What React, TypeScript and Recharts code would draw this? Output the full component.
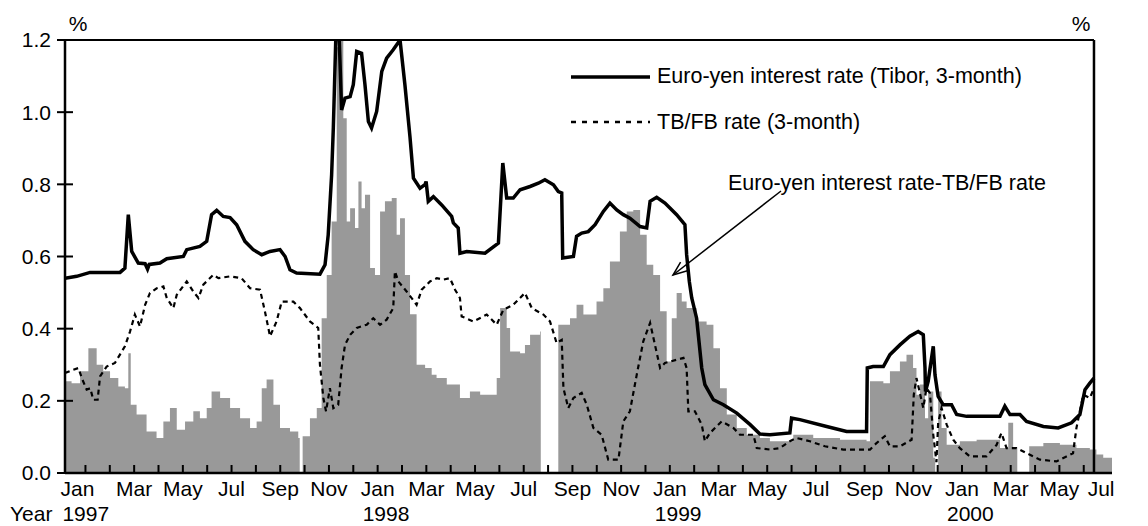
import { ComposedChart, Line, Area, XAxis, YAxis, ReferenceLine } from 'recharts';

// x positions are in months: 1 = Jan 1997 tick, 13 = Jan 1998 tick, ...
const monthNames = ['Jan', 'Feb', 'Mar', 'Apr', 'May', 'Jun', 'Jul', 'Aug', 'Sep', 'Oct', 'Nov', 'Dec'];
const yearLabels = ['1997', '1998', '1999', '2000'];
const monthTicks = Array.from({ length: 43 }, (_, i) => i + 1);
const yTicks = [0, 0.2, 0.4, 0.6, 0.8, 1.0, 1.2];

const xStart = 0.16;
const xEnd = 43.16;
const rightAxisAt = 42.42;

// Euro-yen interest rate (Tibor, 3-month)
const euroYenX = [
  0.16, 0.64, 1.19, 2.42, 2.62, 2.76, 2.9, 3.17, 3.45, 3.55,
  3.62, 4.06, 4.34, 5.02, 5.16, 5.7, 5.98, 6.18, 6.39, 6.66,
  6.94, 7.21, 7.55, 7.89, 8.24, 8.58, 8.99, 9.2, 9.4, 9.67,
  10.63, 10.84, 10.97, 11.11, 11.18, 11.3, 11.4, 11.52, 11.66, 11.87,
  12.0, 12.14, 12.34, 12.48, 12.62, 12.75, 12.96, 13.17, 13.37, 13.64,
  13.92, 14.12, 14.33, 14.47, 14.74, 14.95, 14.99, 15.08, 15.29, 15.63,
  16.04, 16.11, 16.31, 16.38, 16.66, 17.41, 17.96, 18.14, 18.3, 18.57,
  18.85, 19.26, 19.6, 19.87, 20.22, 20.42, 20.56, 20.6, 21.04, 21.17,
  21.38, 21.65, 21.93, 22.27, 22.54, 22.82, 23.09, 23.36, 23.78, 24.05,
  24.19, 24.46, 24.8, 25.28, 25.62, 25.69, 25.8, 25.9, 26.1, 26.31,
  26.44, 26.79, 27.2, 27.75, 28.3, 28.7, 29.11, 29.93, 30.0, 30.34,
  31.44, 32.26, 33.08, 33.11, 33.35, 33.77, 34.04, 34.45, 34.86, 35.2,
  35.41, 35.48, 35.5, 35.61, 35.82, 35.89, 36.02, 36.23, 36.57, 36.78,
  37.19, 38.56, 38.76, 38.97, 39.38, 39.65, 40.34, 40.95, 41.5, 41.84,
  42.05, 42.25, 42.42,
];
const euroYen = [
  0.54, 0.545, 0.556, 0.556, 0.568, 0.716, 0.614, 0.582, 0.58, 0.565,
  0.578, 0.582, 0.594, 0.6, 0.619, 0.628, 0.642, 0.716, 0.728, 0.711,
  0.708, 0.688, 0.642, 0.619, 0.605, 0.614, 0.619, 0.6, 0.563, 0.554,
  0.551, 0.577, 0.66, 0.826, 0.956, 1.25, 1.25, 1.006, 1.039, 1.043,
  1.076, 1.168, 1.163, 1.076, 0.974, 0.956, 1.002, 1.113, 1.15, 1.173,
  1.2, 1.076, 0.93, 0.817, 0.789, 0.8, 0.808, 0.753, 0.766, 0.743,
  0.711, 0.693, 0.679, 0.609, 0.614, 0.609, 0.637, 0.859, 0.762, 0.762,
  0.785, 0.794, 0.803, 0.813, 0.799, 0.78, 0.776, 0.596, 0.6, 0.656,
  0.665, 0.669, 0.688, 0.725, 0.748, 0.729, 0.716, 0.706, 0.683, 0.679,
  0.753, 0.764, 0.748, 0.716, 0.688, 0.605, 0.531, 0.485, 0.429, 0.291,
  0.245, 0.203, 0.189, 0.166, 0.134, 0.108, 0.106, 0.111, 0.152, 0.148,
  0.129, 0.115, 0.115, 0.291, 0.295, 0.295, 0.328, 0.355, 0.379, 0.392,
  0.383, 0.291, 0.226, 0.254, 0.351, 0.272, 0.212, 0.189, 0.189, 0.162,
  0.157, 0.157, 0.185, 0.162, 0.162, 0.143, 0.129, 0.125, 0.139, 0.162,
  0.231, 0.249, 0.263,
];

// TB/FB rate (3-month)
const tbfbX = [
  0.16, 0.45, 0.71, 0.85, 1.05, 1.2, 1.32, 1.5, 1.6, 1.87,
  2.21, 2.62, 2.83, 3.03, 3.24, 3.45, 3.65, 3.93, 4.2, 4.34,
  4.61, 4.75, 5.16, 5.43, 5.64, 5.84, 6.25, 6.46, 6.94, 7.41,
  7.76, 8.17, 8.37, 8.58, 8.85, 9.06, 9.54, 9.81, 10.22, 10.56,
  10.63, 10.77, 10.88, 11.04, 11.18, 11.38, 11.52, 11.66, 11.87, 12.14,
  12.55, 12.82, 13.1, 13.37, 13.64, 13.71, 13.85, 14.19, 14.45, 14.6,
  14.81, 15.15, 15.43, 15.7, 15.97, 16.18, 16.38, 16.45, 16.93, 17.48,
  17.89, 18.16, 18.57, 19.05, 19.33, 19.81, 20.08, 20.35, 20.56, 20.63,
  20.83, 21.04, 21.38, 21.59, 21.86, 22.2, 22.47, 22.89, 23.09, 23.36,
  23.64, 23.91, 24.19, 24.39, 24.6, 24.8, 25.56, 25.69, 25.76, 26.03,
  26.31, 26.44, 26.65, 27.13, 27.61, 27.88, 28.43, 28.57, 29.11, 29.52,
  29.93, 30.21, 30.75, 31.37, 32.12, 33.22, 33.49, 33.83, 34.04, 34.45,
  34.93, 35.02, 35.13, 35.41, 35.54, 35.68, 35.82, 35.95, 36.02, 36.16,
  36.37, 36.64, 36.91, 37.32, 38.01, 38.42, 38.62, 38.83, 39.24, 39.65,
  40.2, 40.88, 41.29, 41.56, 41.7, 41.98, 42.25, 42.42,
];
const tbfb = [
  0.277, 0.285, 0.291, 0.263, 0.231, 0.235, 0.203, 0.203, 0.268, 0.295,
  0.305, 0.351, 0.392, 0.439, 0.406, 0.466, 0.499, 0.512, 0.517, 0.485,
  0.457, 0.494, 0.531, 0.503, 0.485, 0.522, 0.549, 0.54, 0.545, 0.54,
  0.512, 0.508, 0.448, 0.379, 0.42, 0.475, 0.475, 0.457, 0.42, 0.402,
  0.3, 0.208, 0.171, 0.235, 0.18, 0.189, 0.291, 0.355, 0.383, 0.402,
  0.411, 0.429, 0.411, 0.425, 0.457, 0.559, 0.531, 0.503, 0.48, 0.466,
  0.508, 0.531, 0.54, 0.536, 0.54, 0.508, 0.485, 0.434, 0.42, 0.439,
  0.411, 0.452, 0.466, 0.499, 0.457, 0.439, 0.42, 0.36, 0.369, 0.235,
  0.18, 0.208, 0.222, 0.189, 0.125, 0.106, 0.037, 0.037, 0.143, 0.171,
  0.272, 0.365, 0.416, 0.355, 0.291, 0.305, 0.319, 0.291, 0.171, 0.171,
  0.134, 0.088, 0.111, 0.143, 0.125, 0.106, 0.106, 0.069, 0.065, 0.069,
  0.088, 0.097, 0.088, 0.074, 0.065, 0.065, 0.083, 0.102, 0.074, 0.074,
  0.092, 0.217, 0.263, 0.18, 0.235, 0.222, 0.106, 0.03, 0.139, 0.18,
  0.134, 0.092, 0.069, 0.046, 0.046, 0.078, 0.111, 0.069, 0.069, 0.055,
  0.037, 0.032, 0.046, 0.055, 0.125, 0.217, 0.208, 0.235,
];

// Euro-yen interest rate - TB/FB rate (null = no data)
const spreadX = [
  0.16, 0.43, 0.78, 1.12, 1.46, 1.73, 2.01, 2.35, 2.62, 2.76,
  2.86, 3.1, 3.51, 3.92, 4.2, 4.47, 4.75, 5.09, 5.43, 5.7,
  5.98, 6.18, 6.53, 6.94, 7.35, 7.76, 8.03, 8.24, 8.44, 8.72,
  8.99, 9.4, 9.74, 9.8, 9.8, 9.92, 10.22, 10.5, 10.7, 10.91,
  11.11, 11.32, 11.45, 11.59, 11.73, 11.87, 12.07, 12.21, 12.34, 12.48,
  12.69, 12.89, 13.1, 13.3, 13.58, 13.78, 13.92, 14.12, 14.33, 14.6,
  14.95, 15.22, 15.42, 15.84, 16.38, 16.79, 17.21, 17.62, 17.89, 18.03,
  18.3, 18.44, 18.85, 19.05, 19.26, 19.67, 19.7, 19.7, 20.42, 20.9,
  21.17, 21.45, 21.99, 22.27, 22.54, 22.95, 23.23, 23.5, 23.78, 24.05,
  24.32, 24.6, 24.87, 25.08, 25.28, 25.49, 25.69, 26.1, 26.51, 26.79,
  27.06, 27.34, 27.75, 28.16, 28.7, 29.11, 30.07, 30.89, 31.99, 33.08,
  33.22, 33.77, 34.04, 34.45, 34.72, 34.99, 35.13, 35.27, 35.48, 35.61,
  35.82, 35.9, 35.9, 36.02, 36.16, 36.37, 36.91, 37.6, 38.28, 38.56,
  38.9, 39.1, 39.27, 39.27, 39.76, 40.34, 41.02, 41.7, 42.25, 42.52,
  42.8, 43.16,
];
const spread = [
  0.254, 0.249, 0.282, 0.346, 0.3, 0.282, 0.263, 0.24, 0.235, 0.332,
  0.189, 0.162, 0.115, 0.097, 0.143, 0.18, 0.12, 0.143, 0.171, 0.152,
  0.18, 0.226, 0.208, 0.18, 0.152, 0.125, 0.143, 0.235, 0.259, 0.189,
  0.125, 0.115, 0.097, 0.097, null, 0.102, 0.152, 0.18, 0.429, 0.549,
  0.697, 1.18, 1.2, 0.983, 0.697, 0.734, 0.679, 0.808, 0.734, 0.771,
  0.568, 0.549, 0.725, 0.753, 0.762, 0.66, 0.706, 0.549, 0.44, 0.3,
  0.291, 0.272, 0.263, 0.245, 0.208, 0.226, 0.217, 0.217, 0.263, 0.457,
  0.402, 0.337, 0.332, 0.355, 0.383, 0.392, 0.392, null, 0.411, 0.429,
  0.466, 0.439, 0.475, 0.512, 0.586, 0.669, 0.725, 0.729, 0.66, 0.577,
  0.549, 0.448, 0.309, 0.429, 0.499, 0.475, 0.457, 0.42, 0.411, 0.346,
  0.235, 0.162, 0.125, 0.106, 0.097, 0.088, 0.106, 0.097, 0.092, 0.088,
  0.254, 0.249, 0.282, 0.309, 0.328, 0.291, 0.217, 0.245, 0.152, 0.226,
  0.042, 0.042, null, 0.226, 0.125, 0.078, 0.088, 0.092, 0.092, 0.069,
  0.139, 0.069, 0.069, null, 0.074, 0.083, 0.078, 0.069, 0.065, 0.051,
  0.042, 0.037,
];

const FONT = '"Liberation Sans", Arial, Helvetica, sans-serif';
const FS = 21;
const W = 1148;
const H = 526;

const toPoints = (xs: number[], vs: (number | null)[]) => xs.map((x, i) => ({ x, v: vs[i] }));

function MonthTick(props: any) {
  const { x, y, payload } = props;
  const m = payload.value;
  const idx = m - 1;
  const showMonth = idx % 2 === 0;
  const isJan = idx % 12 === 0;
  // first and last labels are pulled in toward the frame, as in the original
  const dx = m === 1 ? -8 : m === 43 ? -7 : 0;
  return (
    <g>
      {m < rightAxisAt && <line x1={x} x2={x} y1={y} y2={y - 8} stroke="#000" strokeWidth={2} />}
      {showMonth && (
        <text x={x + dx} y={y + 16} dy="0.35em" textAnchor="middle" fontSize={FS} fontFamily={FONT} fill="#000">
          {monthNames[idx % 12]}
        </text>
      )}
      {isJan && (
        <text x={x + dx - 15} y={y + 41} dy="0.35em" textAnchor="start" fontSize={FS} fontFamily={FONT} fill="#000">
          {yearLabels[idx / 12]}
        </text>
      )}
    </g>
  );
}

function LeftTick(props: any) {
  const { x, y, payload } = props;
  return (
    <g>
      <line x1={x - 8} x2={x + 8} y1={y} y2={y} stroke="#000" strokeWidth={2} />
      <text x={x - 14} y={y} dy="0.35em" textAnchor="end" fontSize={FS} fontFamily={FONT} fill="#000">
        {Number(payload.value).toFixed(1)}
      </text>
    </g>
  );
}

// right scale sits left of the plot edge, where the last data runs on past it
function RightTick(props: any) {
  const { x, y, payload } = props;
  const ax = x - 18;
  return (
    <g>
      <line x1={ax - 9} x2={ax + 9} y1={y} y2={y} stroke="#000" strokeWidth={2} />
      <text x={ax + 11} y={y} dy="0.35em" textAnchor="start" fontSize={FS} fontFamily={FONT} fill="#000">
        {Number(payload.value).toFixed(1)}
      </text>
    </g>
  );
}

function Overlay() {
  const tip = { x: 673, y: 275 };
  const tail = { x: 781, y: 191 };
  const ang = Math.atan2(tail.y - tip.y, tail.x - tip.x);
  const head = (d: number) => ({
    x: tip.x + 15 * Math.cos(ang + d),
    y: tip.y + 15 * Math.sin(ang + d),
  });
  const h1 = head(0.38);
  const h2 = head(-0.38);
  const txt = { fontSize: FS, fontFamily: FONT, fill: '#000' };
  const leg = { fontSize: 21.5, fontFamily: FONT, fill: '#000' };
  return (
    <svg width={W} height={H} style={{ position: 'absolute', left: 0, top: 0, pointerEvents: 'none' }}>
      <text x={78} y={24} dy="0.35em" textAnchor="middle" {...txt}>%</text>
      <text x={1081} y={24} dy="0.35em" textAnchor="middle" {...txt}>%</text>
      <text x={10} y={514} dy="0.35em" {...txt}>Year</text>
      <line x1={571} x2={650} y1={77} y2={77} stroke="#000" strokeWidth={3.5} />
      <text x={657} y={75} dy="0.35em" {...leg}>Euro-yen interest rate (Tibor, 3-month)</text>
      <line x1={571} x2={650} y1={122} y2={122} stroke="#000" strokeWidth={2.5} strokeDasharray="5 6" />
      <text x={657} y={121} dy="0.35em" {...leg}>TB/FB rate (3-month)</text>
      <text x={728} y={182} dy="0.35em" {...leg}>Euro-yen interest rate-TB/FB rate</text>
      <line x1={tail.x} y1={tail.y} x2={tip.x} y2={tip.y} stroke="#000" strokeWidth={1.5} />
      <polyline points={`${h1.x},${h1.y} ${tip.x},${tip.y} ${h2.x},${h2.y}`} fill="none" stroke="#000" strokeWidth={1.5} />
    </svg>
  );
}

const layer: React.CSSProperties = { position: 'absolute', left: 0, top: 0 };

export default function App() {
  return (
    <div style={{ position: 'absolute', left: 0, top: 0, width: W, height: H, background: '#fff' }}>
      {/* bottom layer: the grey spread, under the axes */}
      <div style={layer}>
        <ComposedChart width={W} height={H} margin={{ top: 40, right: 36, bottom: 53, left: 65 }}>
          <XAxis dataKey="x" type="number" domain={[xStart, xEnd]} allowDataOverflow hide />
          <YAxis domain={[0, 1.2]} allowDataOverflow hide />
          <Area
            data={toPoints(spreadX, spread)}
            dataKey="v"
            type="stepAfter"
            fill="#999999"
            fillOpacity={1}
            stroke="none"
            isAnimationActive={false}
            dot={false}
            activeDot={false}
          />
        </ComposedChart>
      </div>
      {/* top layer: axes, frame, month ticks and the two rate lines */}
      <div style={layer}>
        <ComposedChart width={W} height={H} margin={{ top: 40, right: 0, bottom: 0, left: 0 }}>
          <XAxis
            dataKey="x"
            type="number"
            domain={[xStart, xEnd]}
            allowDataOverflow
            ticks={monthTicks}
            interval={0}
            tickLine={false}
            tickSize={0}
            tickMargin={0}
            tick={<MonthTick />}
            axisLine={{ stroke: '#000', strokeWidth: 2.5 }}
            height={53}
          />
          <YAxis
            yAxisId="l"
            domain={[0, 1.2]}
            allowDataOverflow
            ticks={yTicks}
            interval={0}
            tickLine={false}
            tickSize={0}
            tickMargin={0}
            tick={<LeftTick />}
            axisLine={{ stroke: '#000', strokeWidth: 2.5 }}
            width={65}
          />
          <YAxis
            yAxisId="r"
            orientation="right"
            domain={[0, 1.2]}
            ticks={yTicks}
            interval={0}
            tickLine={false}
            tickSize={0}
            tickMargin={0}
            tick={<RightTick />}
            axisLine={false}
            width={36}
          />
          <ReferenceLine
            yAxisId="l"
            segment={[{ x: xStart, y: 1.2 }, { x: rightAxisAt, y: 1.2 }]}
            stroke="#000"
            strokeWidth={2}
          />
          <ReferenceLine yAxisId="l" x={rightAxisAt} stroke="#000" strokeWidth={2.5} />
          <Line
            yAxisId="l"
            data={toPoints(tbfbX, tbfb)}
            dataKey="v"
            type="linear"
            stroke="#000"
            strokeWidth={2.2}
            strokeDasharray="5 4"
            dot={false}
            activeDot={false}
            isAnimationActive={false}
          />
          <Line
            yAxisId="l"
            data={toPoints(euroYenX, euroYen)}
            dataKey="v"
            type="linear"
            stroke="#000"
            strokeWidth={3.5}
            dot={false}
            activeDot={false}
            isAnimationActive={false}
          />
        </ComposedChart>
      </div>
      <Overlay />
    </div>
  );
}
